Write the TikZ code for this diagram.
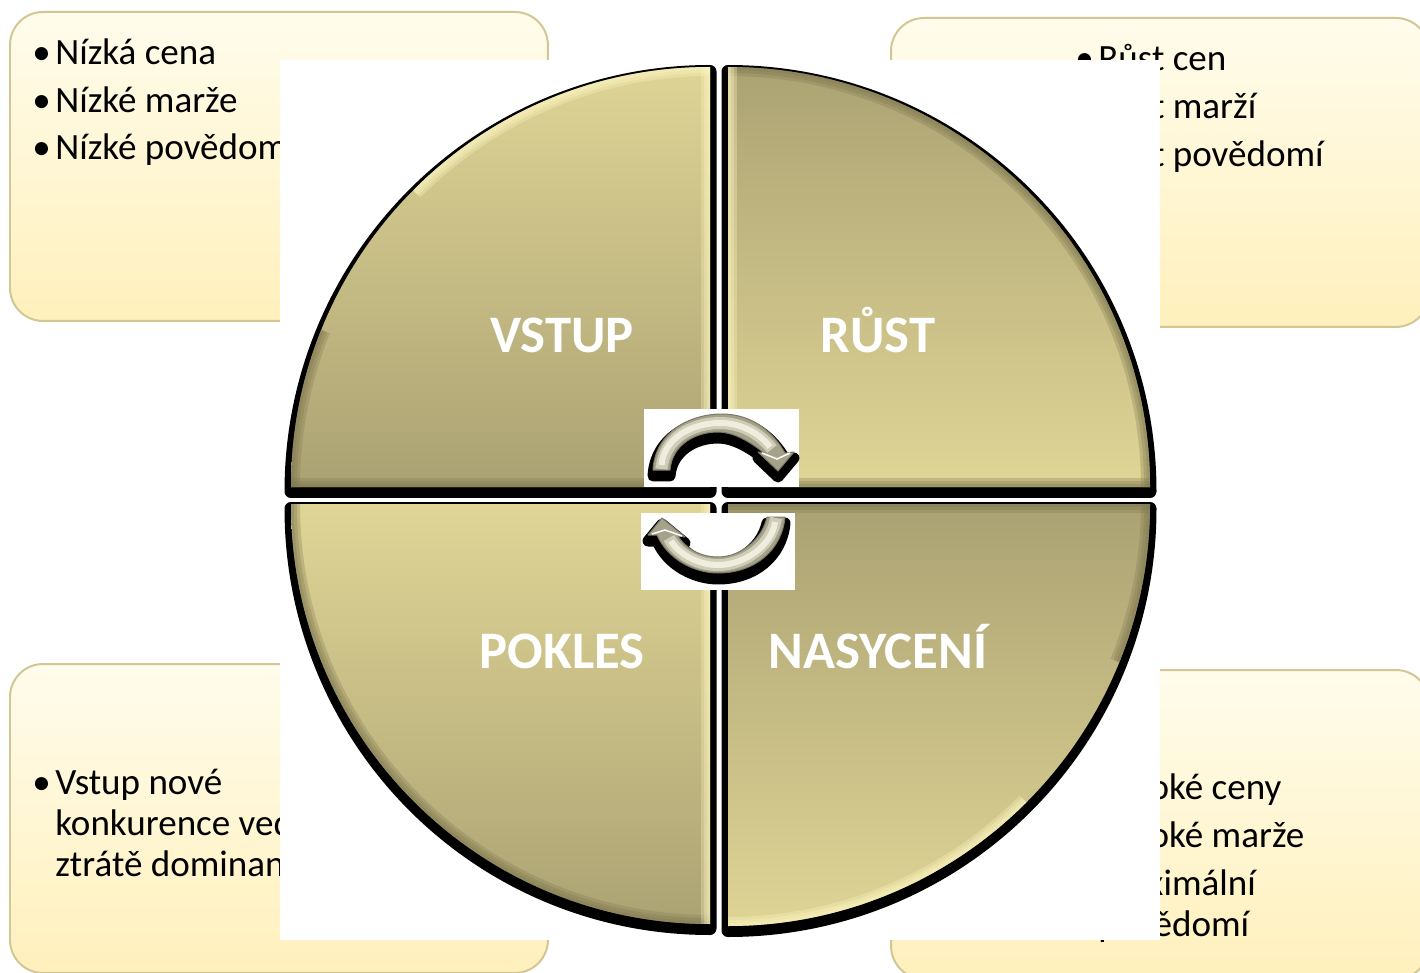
\documentclass[tikz,border=0pt]{standalone}
\usepackage{fontspec}
\setmainfont{Carlito}
\definecolor{panelline}{HTML}{D2C794}
\definecolor{paneltop}{HTML}{FFFCEC}
\definecolor{panelbottom}{HTML}{FFF0BC}
\definecolor{quadlight}{HTML}{DFD596}
\definecolor{quaddark}{HTML}{ABA273}
\definecolor{bevelbright}{HTML}{FFF8C4}
\definecolor{beveldark}{HTML}{7F7850}
\definecolor{arrowbody}{HTML}{A5A28A}
\definecolor{arrowmid}{HTML}{CFCDB8}
\definecolor{arrowlight}{HTML}{EFEDDE}
\tikzset{
  panel/.style={rectangle, draw=panelline, line width=.04cm, rounded corners=.66cm, top color=paneltop, bottom color=panelbottom, minimum width=10.76cm, minimum height=6.18cm, anchor=north west},
  itemtext/.style={anchor=base west, inner sep=0, font=\fontsize{21.1pt}{24pt}\selectfont},
  quadshadow/.style={draw=black, line width=.26cm, line join=round, transform canvas={yshift=-.09cm}},
  quadlabel/.style={anchor=base, text=white, font=\fontsize{30pt}{34pt}\selectfont\bfseries},
  turnshadow/.style={draw=black, fill=black, line width=.22cm, line join=round, transform canvas={yshift=-.12cm}},
  turnbody/.style={draw=arrowbody!75!black, fill=arrowbody, line width=.02cm, line join=round},
  turnmid/.style={draw=arrowmid, line width=.24cm},
  turnlight/.style={draw=arrowlight, line width=.12cm},
  turnglint/.style={draw=white, line width=.03cm}
}
\newcommand{\bevel}[2]{\foreach \w in {.36,.24,.12}{\draw[#1, opacity=.3, line width=\w cm] #2;}}
\def\arcTL{(291,487) .. controls (291,255) and (478,67) .. (710,67)}
\def\arcTR{(728,67) .. controls (961,67) and (1150,254) .. (1150,487)}
\def\arcBL{(710,924) .. controls (478,924) and (291,736) .. (291,504)}
\def\arcBR{(1150,504) .. controls (1150,737) and (961,926) .. (728,926)}
\def\turnup{(653,470) .. controls (655,432) and (690,414) .. (722,414) .. controls (750,414) and (772,430) .. (785,453) -- (794,452) -- (778,471) -- (758,452) -- (764,453) .. controls (748,440) and (732,432) .. (718,432) .. controls (695,432) and (672,445) .. (670,470) -- cycle}
\def\turndown{(767,517) .. controls (762,540) and (740,557) .. (718,557) .. controls (700,557) and (685,548) .. (678,536) -- (685,537) -- (662,518) -- (648,535) -- (657,535) .. controls (668,560) and (695,573) .. (718,573) .. controls (755,573) and (782,550) .. (785,517) -- cycle}
\begin{document}
\begin{tikzpicture}[x=.02cm,y=-.02cm]
\path[use as bounding box, clip] (0,0) rectangle (1420,973);
\fill[white] (0,0) rectangle (1420,973);
\node[panel] (panelTL) at (9,11){};
\node[panel] (panelTR) at (890,17){};
\node[panel] (panelBL) at (9,663){};
\node[panel] (panelBR) at (890,669){};
\node[itemtext] (bulTL1) at (32,65){\textbullet};
\node[itemtext] (txtTL1) at (55,65){Nízká cena};
\node[itemtext] (bulTL2) at (32,113){\textbullet};
\node[itemtext] (txtTL2) at (55,113){Nízké marže};
\node[itemtext] (bulTL3) at (32,160){\textbullet};
\node[itemtext] (txtTL3) at (55,160){Nízké povědomí};
\node[itemtext] (bulTR1) at (1075,71){\textbullet};
\node[itemtext] (txtTR1) at (1098,71){Růst cen};
\node[itemtext] (bulTR2) at (1075,119){\textbullet};
\node[itemtext] (txtTR2) at (1098,119){Růst marží};
\node[itemtext] (bulTR3) at (1075,167){\textbullet};
\node[itemtext] (txtTR3) at (1098,167){Růst povědomí};
\node[itemtext] (bulBL1) at (32,794){\textbullet};
\node[itemtext] (txtBL1) at (55,794){Vstup nové};
\node[itemtext] (txtBL2) at (55,835){konkurence vede};
\node[itemtext] (txtBL3) at (55,876){ztrátě dominan};
\node[itemtext] (bulBR1) at (1075,799){\textbullet};
\node[itemtext] (txtBR1) at (1098,799){Vysoké ceny};
\node[itemtext] (bulBR2) at (1075,847){\textbullet};
\node[itemtext] (txtBR2) at (1098,847){Vysoké marže};
\node[itemtext] (bulBR3) at (1075,895){\textbullet};
\node[itemtext] (txtBR3) at (1098,895){Maximální};
\node[itemtext] (txtBR4) at (1098,936){povědomí};
\fill[white] (280,60) rectangle (1160,940);
\draw[quadshadow] \arcTL -- (710,487) -- cycle;
\draw[quadshadow] \arcTR -- (728,487) -- cycle;
\draw[quadshadow] \arcBL -- (710,504) -- cycle;
\draw[quadshadow] \arcBR -- (728,504) -- cycle;
\begin{scope}
\clip \arcTL -- (710,487) -- cycle;
\shade[top color=quadlight, bottom color=quaddark] (280,60) rectangle (720,487);
\bevel{beveldark}{(291,487) -- (710,487)}
\bevel{beveldark}{(291,487) .. controls (291,433) and (301.5,380) .. (321.5,330)}
\bevel{bevelbright}{(414,191) .. controls (492.5,112.5) and (599,67) .. (710,67)}
\bevel{bevelbright}{(710,67) -- (710,487)}
\end{scope}
\begin{scope}
\clip \arcTR -- (728,487) -- cycle;
\shade[top color=quaddark, bottom color=quadlight] (720,60) rectangle (1160,487);
\bevel{beveldark}{\arcTR}
\bevel{beveldark}{(728,487) -- (1150,487)}
\bevel{bevelbright}{(728,67) -- (728,487)}
\end{scope}
\begin{scope}
\clip \arcBL -- (710,504) -- cycle;
\shade[top color=quadlight, bottom color=quaddark] (280,504) rectangle (720,930);
\bevel{beveldark}{\arcBL}
\bevel{bevelbright}{(710,504) -- (710,924)}
\end{scope}
\begin{scope}
\clip \arcBR -- (728,504) -- cycle;
\shade[top color=quaddark, bottom color=quadlight] (720,504) rectangle (1160,930);
\bevel{beveldark}{(728,504) -- (1150,504)}
\bevel{beveldark}{(1150,504) .. controls (1150,558) and (1139,612) .. (1119,662)}
\bevel{bevelbright}{(728,926) .. controls (840,926) and (947,881) .. (1026,802)}
\end{scope}
\node[quadlabel] (lblvstup) at (562,352){VSTUP};
\node[quadlabel] (lblrust) at (878,352){RŮST};
\node[quadlabel] (lblpokles) at (562,668){POKLES};
\node[quadlabel] (lblnasyceni) at (878,668){NASYCENÍ};
\fill[white] (644,409) rectangle (799,487);
\fill[white] (641,513) rectangle (795,590);
\draw[turnshadow] \turnup;
\draw[turnbody] \turnup;
\draw[turnmid] (661.5,469) .. controls (664,438) and (692,423) .. (720,423) .. controls (744,423) and (762,436) .. (772,449);
\draw[turnlight] (661.5,465) .. controls (664,438) and (692,423) .. (720,423) .. controls (744,423) and (762,436) .. (770,447);
\draw[turnglint] (762,453) -- (777,459) -- (790,453);
\draw[turnshadow] \turndown;
\draw[turnbody] \turndown;
\draw[turnmid] (776,518) .. controls (772,545) and (745,565) .. (718,565) .. controls (695,565) and (676,552) .. (669,538);
\draw[turnlight] (775,522) .. controls (772,545) and (745,565) .. (718,565) .. controls (697,565) and (678,553) .. (671,541);
\draw[turnglint] (652,534) -- (665,530) -- (682,536);
\end{tikzpicture}
\end{document}
